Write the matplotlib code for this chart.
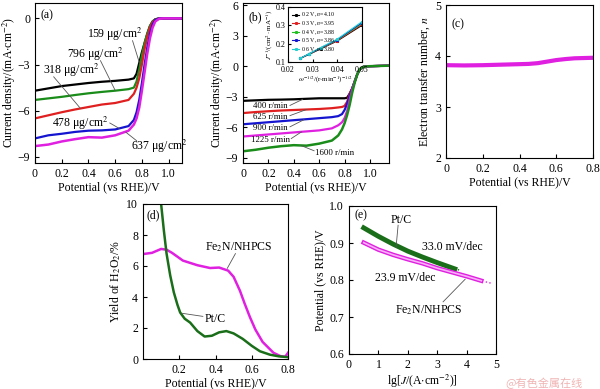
import matplotlib
matplotlib.use("Agg")
import matplotlib.pyplot as plt

plt.rcParams["font.family"] = ["Liberation Serif", "DejaVu Serif"]
plt.rcParams["mathtext.fontset"] = "stix"
plt.rcParams["font.size"] = 8.5
plt.rcParams["xtick.direction"] = "in"
plt.rcParams["ytick.direction"] = "in"
plt.rcParams["xtick.major.size"] = 3
plt.rcParams["ytick.major.size"] = 3
plt.rcParams["axes.linewidth"] = 0.8

# ---- (a) loading series ----
pot_a = [0.0, 0.1, 0.2, 0.3, 0.4, 0.5, 0.6, 0.7, 0.74, 0.76, 0.78, 0.8, 0.82, 0.84, 0.86, 0.88, 0.9, 0.93, 0.96, 1.0, 1.1]
j_159 = [-4.7, -4.55, -4.4, -4.3, -4.2, -4.12, -4.06, -3.98, -3.9, -3.6, -2.9, -2.2, -1.6, -1.0, -0.5, -0.2, -0.06, 0.0, 0.0, 0.0, 0.0]
j_796 = [-5.3, -5.2, -5.1, -4.98, -4.87, -4.78, -4.7, -4.6, -4.5, -4.1, -3.3, -2.4, -1.6, -1.0, -0.5, -0.2, -0.06, 0.0, 0.0, 0.0, 0.0]
j_318 = [-6.5, -6.3, -6.1, -5.92, -5.76, -5.6, -5.5, -5.3, -4.9, -4.5, -3.9, -3.0, -2.0, -1.2, -0.6, -0.25, -0.08, 0.0, 0.0, 0.0, 0.0]
j_478 = [-7.8, -7.6, -7.5, -7.38, -7.3, -7.28, -7.22, -7.0, -6.6, -6.1, -5.3, -4.2, -3.0, -1.9, -1.0, -0.4, -0.1, 0.0, 0.0, 0.0, 0.0]
j_637 = [-8.3, -8.2, -8.0, -7.85, -7.72, -7.75, -7.6, -7.3, -6.9, -6.5, -5.8, -4.7, -3.5, -2.3, -1.3, -0.6, -0.2, -0.02, 0.0, 0.0, 0.0]

# ---- (b) rotation-rate series ----
pot_b = [0.0, 0.1, 0.2, 0.3, 0.4, 0.5, 0.6, 0.7, 0.75, 0.78, 0.8, 0.82, 0.84, 0.86, 0.88, 0.9, 0.92, 0.95, 1.0, 1.15]
j_400 = [-3.4, -3.35, -3.3, -3.28, -3.25, -3.2, -3.15, -3.15, -3.15, -3.15, -3.15, -3.1, -2.7, -2.2, -1.5, -0.8, -0.3, -0.05, 0.0, 0.05]
j_625 = [-4.6, -4.5, -4.42, -4.35, -4.3, -4.25, -4.2, -4.12, -4.05, -4.0, -3.9, -3.5, -2.7, -2.2, -1.5, -0.8, -0.3, -0.05, 0.0, 0.05]
j_900 = [-5.7, -5.6, -5.5, -5.4, -5.3, -5.2, -5.1, -5.0, -4.9, -4.7, -4.3, -3.7, -2.9, -2.2, -1.5, -0.8, -0.3, -0.05, 0.0, 0.05]
j_1225 = [-6.9, -6.8, -6.7, -6.6, -6.5, -6.4, -6.3, -6.1, -5.8, -5.5, -5.1, -4.4, -3.3, -2.3, -1.5, -0.8, -0.3, -0.05, 0.0, 0.05]
j_1600 = [-8.35, -8.2, -8.0, -7.85, -7.75, -7.8, -7.6, -7.3, -6.8, -6.2, -5.6, -4.8, -3.8, -2.6, -1.6, -0.8, -0.3, -0.05, 0.0, 0.05]

# inset K-L plot
omega_inv = [0.025, 0.0286, 0.0333, 0.04, 0.05]
kl_02 = [0.12, 0.142, 0.172, 0.215, 0.300]
kl_03 = [0.12, 0.143, 0.174, 0.217, 0.305]
kl_04 = [0.12, 0.144, 0.176, 0.220, 0.310]
kl_05 = [0.12, 0.145, 0.177, 0.222, 0.315]
kl_06 = [0.12, 0.146, 0.179, 0.225, 0.320]
kl_labels = ["0.2 V, $n$=4.10", "0.3 V, $n$=3.95", "0.4 V, $n$=3.88", "0.5 V, $n$=3.86", "0.6 V, $n$=3.80"]

# ---- (c) electron transfer number ----
pot_c = [0.0, 0.1, 0.2, 0.3, 0.4, 0.45, 0.5, 0.55, 0.6, 0.65, 0.7, 0.75, 0.8]
n_c = [3.82, 3.815, 3.82, 3.83, 3.84, 3.845, 3.86, 3.89, 3.92, 3.94, 3.955, 3.96, 3.965]

# ---- (d) H2O2 yield ----
pot_fe = [0.0, 0.05, 0.1, 0.13, 0.16, 0.22, 0.3, 0.37, 0.42, 0.47, 0.5, 0.535, 0.56, 0.59, 0.62, 0.66, 0.72, 0.76, 0.785, 0.8]
h2o2_fe = [6.77, 6.85, 7.1, 7.05, 6.85, 6.35, 6.05, 5.87, 5.9, 5.7, 5.3, 4.4, 3.6, 2.7, 1.9, 1.1, 0.4, 0.18, 0.15, 0.4]
pot_pt = [0.10, 0.115, 0.13, 0.15, 0.17, 0.19, 0.205, 0.23, 0.26, 0.3, 0.34, 0.38, 0.42, 0.46, 0.5, 0.55, 0.6, 0.645, 0.7, 0.75, 0.8]
h2o2_pt = [10.0, 8.3, 6.8, 5.4, 4.3, 3.5, 3.0, 2.6, 2.35, 1.8, 1.45, 1.5, 1.72, 1.8, 1.65, 1.3, 0.85, 0.5, 0.28, 0.17, 0.12]

# ---- (e) Tafel ----
lgj_pt = [0.5, 1.0, 1.5, 2.0, 2.5, 3.0, 3.6]
e_pt = [0.941, 0.918, 0.897, 0.878, 0.862, 0.847, 0.830]
lgj_fe = [0.5, 1.0, 1.5, 2.0, 2.5, 3.0, 3.5, 4.0, 4.5]
e_fe = [0.901, 0.882, 0.868, 0.856, 0.845, 0.832, 0.821, 0.810, 0.798]

W, H = 600, 389
fig = plt.figure(figsize=(6.0, 3.89), dpi=100)


def box(l, t, r, b):
    return [l / W, 1 - b / H, (r - l) / W, (b - t) / H]


def leader(ax, p0, p1):
    ax.plot([p0[0], p1[0]], [p0[1], p1[1]], color="#555555", lw=0.6)


xlab = "Potential (vs RHE)/V"
jlab = "Current density/(mA$\\cdot$cm$^{-2}$)"

# (a)
ax = fig.add_axes(box(35, 3, 182, 163))
ax.plot(pot_a, j_159, color="black", lw=1.6)
ax.plot(pot_a, j_796, color="#1a8c1a", lw=1.6)
ax.plot(pot_a, j_318, color="#e02020", lw=1.6)
ax.plot(pot_a, j_478, color="#1515d0", lw=1.6)
ax.plot(pot_a, j_637, color="#e020e0", lw=1.8)
ax.set_xlim(0, 1.1)
ax.set_ylim(-9.4, 1.0)
ax.set_xticks([0, 0.2, 0.4, 0.6, 0.8, 1.0])
ax.set_xticklabels(["0", "0.2", "0.4", "0.6", "0.8", "1.0"])
ax.set_yticks([0, -3, -6, -9])
ax.set_xlabel(xlab, labelpad=1)
ax.set_ylabel(jlab, labelpad=0)
ax.text(0.04, 0.2, "(a)", va="center")
ax.text(0.39, -1.05, "159 μg/cm$^2$", va="center")
leader(ax, (0.73, -1.45), (0.78, -2.85))
ax.text(0.24, -2.35, "796 μg/cm$^2$", va="center")
leader(ax, (0.49, -2.75), (0.6, -4.68))
ax.text(0.06, -3.4, "318 μg/cm$^2$", va="center")
leader(ax, (0.14, -3.8), (0.34, -5.85))
ax.text(0.13, -6.85, "478 μg/cm$^2$", va="center")
leader(ax, (0.56, -6.8), (0.63, -7.15))
ax.text(0.72, -8.3, "637 μg/cm$^2$", va="center")
leader(ax, (0.76, -7.95), (0.68, -7.4))

# (b)
ax = fig.add_axes(box(243, 3, 389, 163))
ax.plot(pot_b, j_400, color="black", lw=1.6)
ax.plot(pot_b, j_625, color="#e02020", lw=1.6)
ax.plot(pot_b, j_900, color="#1515d0", lw=1.6)
ax.plot(pot_b, j_1225, color="#e020e0", lw=1.6)
ax.plot(pot_b, j_1600, color="#1a8c1a", lw=1.8)
ax.set_xlim(0, 1.15)
ax.set_ylim(-9.5, 6.2)
ax.set_xticks([0, 0.2, 0.4, 0.6, 0.8, 1.0])
ax.set_xticklabels(["0", "0.2", "0.4", "0.6", "0.8", "1.0"])
ax.set_yticks([6, 3, 0, -3, -6, -9])
ax.set_xlabel(xlab, labelpad=1)
ax.set_ylabel(jlab, labelpad=0)
ax.text(0.04, 4.8, "(b)", va="center")
fs = 6.3
ax.text(0.08, -3.9, "400 r/min", va="center", fontsize=fs)
leader(ax, (0.37, -3.85), (0.47, -3.25))
ax.text(0.08, -4.95, "625 r/min", va="center", fontsize=fs)
leader(ax, (0.37, -4.85), (0.5, -4.25))
ax.text(0.08, -6.05, "900 r/min", va="center", fontsize=fs)
leader(ax, (0.37, -5.95), (0.48, -5.25))
ax.text(0.06, -7.25, "1225 r/min", va="center", fontsize=fs)
leader(ax, (0.38, -7.1), (0.46, -6.45))
ax.text(0.57, -8.55, "1600 r/min", va="center", fontsize=fs)
leader(ax, (0.56, -8.3), (0.46, -7.8))

# inset
ins = fig.add_axes(box(288, 7, 362, 62))
for y, c, lab in zip([kl_02, kl_03, kl_04, kl_05, kl_06],
                     ["black", "#e02020", "#20c020", "#1515d0", "#20d0d0"], kl_labels):
    ins.plot(omega_inv, y, color=c, lw=0.8, marker="s", ms=1.2, label=lab)
ins.set_xlim(0.02, 0.05)
ins.set_ylim(0.1, 0.4)
ins.set_xticks([0.02, 0.03, 0.04, 0.05])
ins.set_yticks([0.1, 0.2, 0.3, 0.4])
ins.tick_params(labelsize=5.8, length=2, pad=1.5)
ins.tick_params(axis="x", pad=3)
ins.set_xlabel("$\\omega^{-1/2}$/(r$\\cdot$min$^{-1}$)$^{-1/2}$", fontsize=5, labelpad=0.5)
ins.set_ylabel("$J^{-1}$/(cm$^2\\cdot$mA$^{-1}$)", fontsize=5, labelpad=0.5)
ins.legend(loc="upper left", fontsize=4.2, frameon=False, handlelength=1.2,
           borderpad=0.2, labelspacing=0.05, handletextpad=0.3)

# (c)
ax = fig.add_axes(box(446, 5, 593, 158))
ax.plot(pot_c, n_c, color="#e020e0", lw=3)
ax.set_xlim(0, 0.8)
ax.set_ylim(2, 5)
ax.set_xticks([0, 0.2, 0.4, 0.6, 0.8])
ax.set_xticklabels(["0", "0.2", "0.4", "0.6", "0.8"])
ax.set_yticks([2, 3, 4, 5])
ax.set_xlabel(xlab, labelpad=1)
ax.set_ylabel("Electron transfer number, $n$", labelpad=2)
ax.text(0.03, 4.62, "(c)", va="center")

# (d)
ax = fig.add_axes(box(143, 204, 288, 359))
ax.plot(pot_fe, h2o2_fe, color="#e020e0", lw=1.8)
ax.plot(pot_pt, h2o2_pt, color="#1a6e1a", lw=1.8)
ax.set_xlim(0, 0.8)
ax.set_ylim(0, 10)
ax.set_xticks([0.2, 0.4, 0.6, 0.8])
ax.set_yticks([0, 2, 4, 6, 8, 10])
ax.set_xlabel(xlab, labelpad=1)
ax.set_ylabel("Yield of H$_2$O$_2$/%", labelpad=2)
ax.text(0.02, 9.3, "(d)", va="center")
ax.text(0.34, 7.2, "Fe$_2$N/NHPCS", va="center")
leader(ax, (0.51, 6.8), (0.465, 5.85))
ax.text(0.34, 2.6, "Pt/C", va="center")
leader(ax, (0.33, 2.75), (0.215, 2.95))

# (e)
ax = fig.add_axes(box(349, 206, 496, 354))
ax.plot(lgj_pt, e_pt, color="#1a6e1a", lw=3.5)
ax.plot([3.7, 3.8], [0.828, 0.826], color="#1a6e1a", lw=1, ls=":")
ax.plot(lgj_fe, e_fe, color="#e020e0", lw=3.2)
ax.plot(lgj_fe, e_fe, color="#f6b0f6", lw=1.2)
ax.plot([4.65, 4.85], [0.795, 0.791], color="#e020e0", lw=1, ls=":")
ax.set_xlim(0, 5)
ax.set_ylim(0.6, 1.0)
ax.set_xticks([0, 1, 2, 3, 4, 5])
ax.set_yticks([0.6, 0.7, 0.8, 0.9, 1.0])
ax.set_xlabel("lg[$J$/(A$\\cdot$cm$^{-2}$)]", labelpad=1)
ax.set_ylabel("Potential (vs RHE)/V", labelpad=2)
ax.text(0.2, 0.975, "(e)", va="center")
ax.text(1.4, 0.962, "Pt/C", va="center")
leader(ax, (1.67, 0.948), (1.6, 0.888))
ax.text(2.5, 0.89, "33.0 mV/dec", va="center")
ax.text(0.9, 0.806, "23.9 mV/dec", va="center")
ax.text(1.55, 0.719, "Fe$_2$N/NHPCS", va="center")
leader(ax, (3.2, 0.741), (3.95, 0.802))

fig.text(505 / W, 1 - 383 / H, "@有色金属在线", color="#f0b4b4", fontsize=8,
         family=["Noto Sans CJK SC", "DejaVu Sans"], va="center")

fig.savefig("out.png", dpi=100)
